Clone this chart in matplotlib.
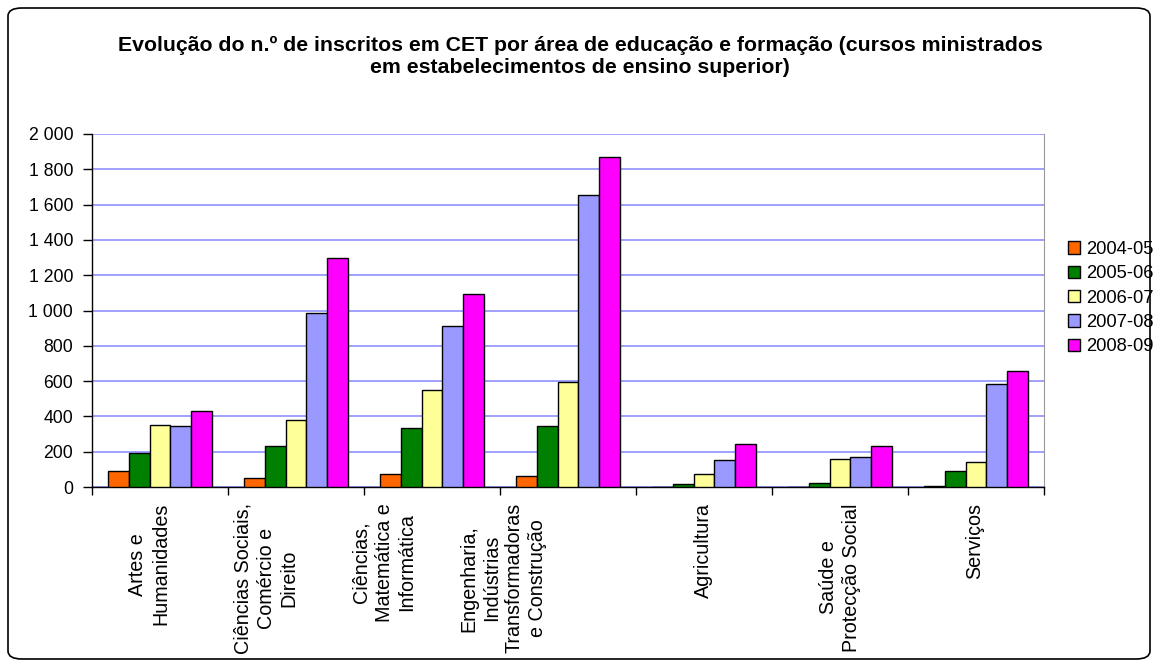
import numpy as np
import matplotlib
matplotlib.use("Agg")
import matplotlib.pyplot as plt
from matplotlib.patches import FancyBboxPatch
from matplotlib.ticker import FuncFormatter, FixedLocator
import matplotlib.transforms as mtransforms

plt.rcParams['font.family'] = ['Liberation Sans', 'DejaVu Sans']

# dados
areas = ["Artes e\nHumanidades",
         "Ciências Sociais,\nComércio e\nDireito",
         "Ciências,\nMatemática e\nInformática",
         "Engenharia,\nIndústrias\nTransformadoras\ne Construção",
         "Agricultura",
         "Saúde e\nProtecção Social",
         "Serviços"]
anos = ["2004-05", "2005-06", "2006-07", "2007-08", "2008-09"]
v_2004 = [88, 52, 72, 60, 0, 0, 5]
v_2005 = [195, 232, 337, 346, 15, 22, 89]
v_2006 = [354, 382, 552, 595, 72, 158, 143]
v_2007 = [346, 987, 914, 1654, 151, 168, 586]
v_2008 = [433, 1298, 1092, 1868, 241, 230, 655]
series = [v_2004, v_2005, v_2006, v_2007, v_2008]
cores = ["#FF6600", "#008000", "#FFFF99", "#9999FF", "#FF00FF"]

W, H = 1158, 667
fig = plt.figure(figsize=(W / 100, H / 100), dpi=100)

# moldura exterior arredondada
borda = FancyBboxPatch((8 / W, 8 / H), (W - 16) / W, (H - 16) / H,
                       boxstyle="round,pad=0,rounding_size=0.012",
                       transform=fig.transFigure, fill=False,
                       edgecolor="black", linewidth=1.2)
fig.patches.append(borda)

ax = fig.add_axes([92 / W, 1 - 487 / H, (1044 - 92) / W, (487 - 134) / H])

n = len(areas)
x = np.arange(n)
bw = 0.1535
for i, (vals, cor, ano) in enumerate(zip(series, cores, anos)):
    ax.bar(x + (i - 2) * bw, vals, width=bw, color=cor, edgecolor="black",
           linewidth=1.0, label=ano, zorder=3)

ax.set_xlim(-0.5, n - 0.5)
ax.set_ylim(0, 2000)
ax.yaxis.set_major_locator(FixedLocator(np.arange(0, 2001, 200)))
ax.yaxis.set_major_formatter(FuncFormatter(lambda v, p: f"{int(v):,}".replace(",", " ")))
ax.grid(axis="y", color="#9999FF", linewidth=1.3, zorder=0)
ax.set_axisbelow(True)

ax.spines["top"].set_visible(False)
ax.spines["right"].set_color("#999999")
ax.spines["left"].set_linewidth(1.0)
ax.spines["bottom"].set_linewidth(1.0)

ax.tick_params(axis="y", direction="out", length=6.5, width=1, labelsize=12.7, pad=7)
ax.set_xticks(np.arange(-0.5, n, 1.0))
ax.set_xticklabels([])
ax.tick_params(axis="x", direction="out", length=6, width=1)

# rótulos das categorias (rodados)
desloc = [-11, -30, -48, -65, -1, 0, -1]
for i, (nome, d) in enumerate(zip(areas, desloc)):
    tr = mtransforms.blended_transform_factory(ax.transData, ax.transAxes) + \
        mtransforms.ScaledTranslation(d / 100, -16 / 100, fig.dpi_scale_trans)
    ax.text(i, 0, nome, rotation=90, ha="center", va="top",
            multialignment="center", fontsize=14.2, transform=tr,
            linespacing=1.25)

ax.legend(loc="upper left", bbox_to_anchor=(1068 / W, 1 - 241 / H),
          bbox_transform=fig.transFigure, frameon=False, fontsize=13.2,
          handlelength=0.66, handleheight=0.66, handletextpad=0.33,
          labelspacing=0.4, borderaxespad=0, borderpad=0)

fig.text(580 / W, 1 - 56 / H,
         "Evolução do n.º de inscritos em CET por área de educação e formação (cursos ministrados\n"
         "em estabelecimentos de ensino superior)",
         ha="center", va="center", fontsize=15.3, fontweight="bold", linespacing=1.2)

fig.savefig("out.png", dpi=100)
